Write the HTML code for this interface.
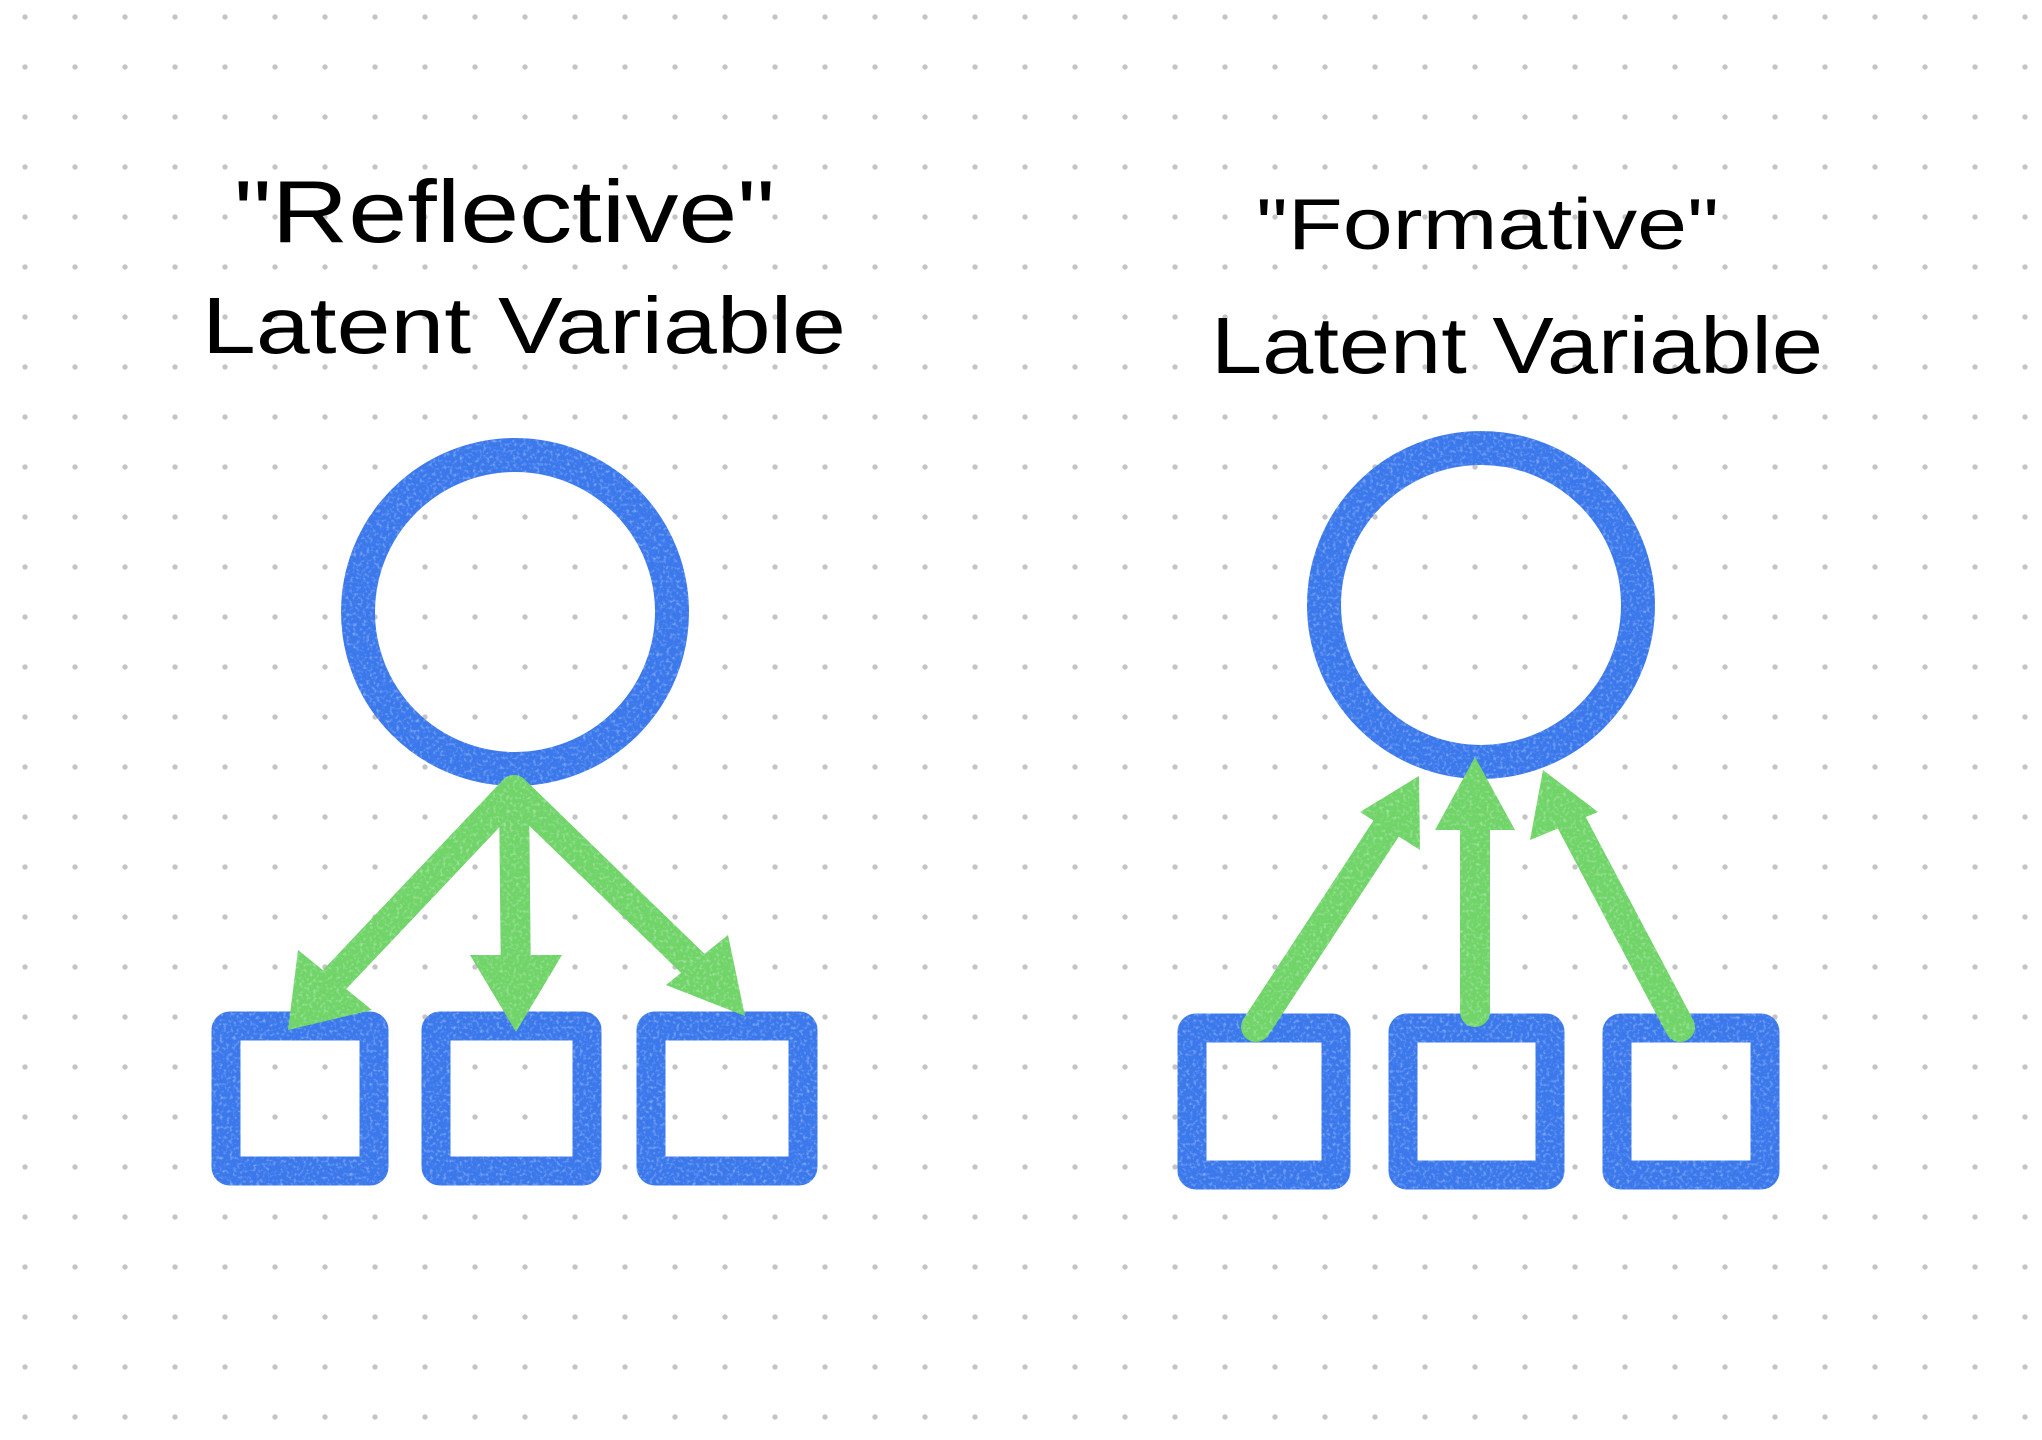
<!DOCTYPE html>
<html><head><meta charset="utf-8">
<style>
html,body{margin:0;padding:0;background:#fff;}
body{width:2042px;height:1440px;overflow:hidden;
background-image:radial-gradient(circle,#c4c4c4 2.4px,transparent 2.9px);
background-size:50px 50px;background-position:0px -8px;}
svg{position:absolute;left:0;top:0;}
text{font-family:"Liberation Sans","DejaVu Sans",sans-serif;fill:#000;}
</style></head>
<body>
<svg width="2042" height="1440" viewBox="0 0 2042 1440">
<defs>
<filter id="crayon" x="-10%" y="-10%" width="120%" height="120%">
<feTurbulence type="fractalNoise" baseFrequency="0.3" numOctaves="2" seed="3" result="n"/>
<feColorMatrix in="n" type="matrix" values="0 0 0 0 0  0 0 0 0 0  0 0 0 0 0  0 0 0 -1 1.5" result="a"/>
<feComposite in="SourceGraphic" in2="a" operator="in"/>
</filter>
</defs>

<g>
<text x="234" y="242" font-size="88" textLength="541" lengthAdjust="spacingAndGlyphs">"Reflective"</text>
<text x="202" y="353" font-size="80" textLength="644" lengthAdjust="spacingAndGlyphs">Latent  Variable</text>
</g>
<g>
<text x="1256" y="249" font-size="72" textLength="463" lengthAdjust="spacingAndGlyphs">"Formative"</text>
<text x="1211" y="373" font-size="80" textLength="612" lengthAdjust="spacingAndGlyphs">Latent Variable</text>
</g>

<g filter="url(#crayon)">
<g fill="none">
<circle cx="515" cy="612" r="157" stroke="#3a78ec" stroke-width="34"/>
<rect x="226" y="1026" width="148" height="145" rx="4" stroke="#3a78ec" stroke-width="29"/>
<rect x="436" y="1026" width="151" height="145" rx="4" stroke="#3a78ec" stroke-width="29"/>
<rect x="651" y="1026" width="152" height="145" rx="4" stroke="#3a78ec" stroke-width="29"/>
<g stroke="#6fd468" stroke-width="30" stroke-linecap="round">
<line x1="514" y1="790" x2="320" y2="995"/>
<line x1="514" y1="790" x2="516" y2="990"/>
<line x1="514" y1="790" x2="712" y2="982"/>
</g>
<g fill="#6fd468">
<polygon points="288,1030 298,950 372,1010"/>
<polygon points="516,1032 470,955 562,955"/>
<polygon points="745,1016 666,985 728,935"/>
</g>
</g>

<g fill="none">
<circle cx="1481" cy="605" r="157" stroke="#3a78ec" stroke-width="34"/>
<rect x="1192" y="1028" width="144" height="147" rx="4" stroke="#3a78ec" stroke-width="29"/>
<rect x="1403" y="1028" width="147" height="147" rx="4" stroke="#3a78ec" stroke-width="29"/>
<rect x="1617" y="1028" width="148" height="147" rx="4" stroke="#3a78ec" stroke-width="29"/>
<g stroke="#6fd468" stroke-width="30" stroke-linecap="round">
<line x1="1256" y1="1027" x2="1395" y2="815"/>
<line x1="1475" y1="1012" x2="1475" y2="800"/>
<line x1="1680" y1="1027" x2="1565" y2="810"/>
</g>
<g fill="#6fd468">
<polygon points="1419,776 1360,812 1420,850"/>
<polygon points="1475,757 1435,830 1515,830"/>
<polygon points="1543,770 1530,840 1598,812"/>
</g>
</g>
</g>
</svg>
</body></html>
